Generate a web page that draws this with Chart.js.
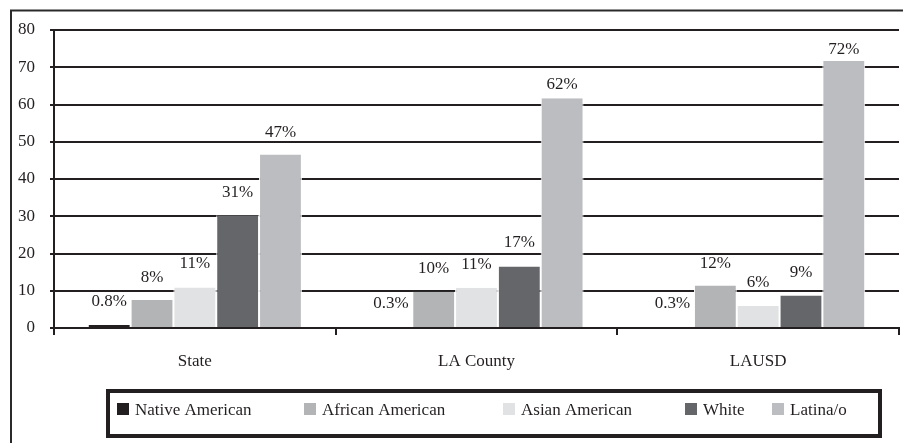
<!DOCTYPE html>
<html>
<head>
<meta charset="utf-8">
<script src="https://cdn.jsdelivr.net/npm/chart.js@4/dist/chart.umd.min.js"></script>
<style>
  html, body { margin: 0; padding: 0; background: #fff; }
  #wrap { position: relative; width: 903px; height: 443px; }
</style>
</head>
<body>
<div id="wrap"><canvas id="c" width="903" height="443"></canvas></div>
<script>
// ---- data ----
const categories = ["State", "LA County", "LAUSD"];
const seriesNames = ["Native American", "African American", "Asian American", "White", "Latina/o"];
const nativeAmerican  = [0.8, 0.3, 0.3];
const africanAmerican = [7.5, 9.7, 11.4];
const asianAmerican   = [10.9, 10.8, 5.9];
const white           = [30.3, 16.5, 8.7];
const latino          = [46.6, 61.7, 71.7];
const nativeLabels  = ["0.8%", "0.3%", "0.3%"];
const africanLabels = ["8%", "10%", "12%"];
const asianLabels   = ["11%", "11%", "6%"];
const whiteLabels   = ["31%", "17%", "9%"];
const latinoLabels  = ["47%", "62%", "72%"];
const yTicks = [0, 10, 20, 30, 40, 50, 60, 70, 80];

// ---- styles / layout ----
const FONT = '"Liberation Serif", "Times New Roman", serif';
const INK = '#231f20';
const colors = ['#231f20', '#b3b4b6', '#e1e2e3', '#656669', '#bcbdc0'];
const valueSets = [nativeAmerican, africanAmerican, asianAmerican, white, latino];
const labelSets = [nativeLabels, africanLabels, asianLabels, whiteLabels, latinoLabels];
const legendItemX = [117, 304, 503, 685, 772];
// distance of each value label above its bar (px), per series / category
const labelLift = [[23, 23, 23], [23, 23, 22], [24, 23, 23], [23, 24, 23], [22, 14, 11]];

const datasets = seriesNames.map((name, i) => ({
  label: name,
  data: valueSets[i],
  backgroundColor: colors[i],
  borderColor: '#ffffff',
  borderWidth: { left: 1, right: 1, top: 0, bottom: 0 },
  borderSkipped: 'start',
  barPercentage: 1.0,
  categoryPercentage: 0.76,
  valueLabels: labelSets[i]
}));

const framePlugin = {
  id: 'frame',
  beforeDraw(chart) {
    const ctx = chart.ctx;
    ctx.save();
    ctx.fillStyle = '#fff';
    ctx.fillRect(0, 0, chart.width, chart.height);
    ctx.strokeStyle = '#2a2a2a';
    ctx.lineWidth = 2;
    ctx.beginPath();
    ctx.moveTo(11, chart.height + 5);
    ctx.lineTo(11, 10.5);
    ctx.lineTo(chart.width + 5, 10.5);
    ctx.stroke();
    ctx.restore();
  }
};

const valueLabelPlugin = {
  id: 'valueLabels',
  afterDatasetsDraw(chart) {
    const ctx = chart.ctx;
    ctx.save();
    ctx.font = '17px ' + FONT;
    ctx.fillStyle = INK;
    ctx.textAlign = 'center';
    ctx.textBaseline = 'middle';
    chart.data.datasets.forEach((ds, i) => {
      const meta = chart.getDatasetMeta(i);
      meta.data.forEach((el, j) => {
        ctx.fillText(ds.valueLabels[j], el.x, el.y - labelLift[i][j]);
      });
    });
    ctx.restore();
  }
};

const legendPlugin = {
  id: 'boxLegend',
  afterDraw(chart) {
    const ctx = chart.ctx;
    ctx.save();
    ctx.strokeStyle = INK;
    ctx.lineWidth = 4;
    ctx.strokeRect(108, 391, 772, 45);
    ctx.font = '17px ' + FONT;
    ctx.textAlign = 'left';
    ctx.textBaseline = 'middle';
    chart.data.datasets.forEach((ds, i) => {
      const x = legendItemX[i];
      ctx.fillStyle = ds.backgroundColor;
      ctx.fillRect(x, 403, 12, 12);
      ctx.fillStyle = INK;
      ctx.fillText(ds.label, x + 18, 411);
    });
    ctx.restore();
  }
};

new Chart(document.getElementById('c'), {
  type: 'bar',
  data: { labels: categories, datasets },
  options: {
    responsive: false,
    animation: false,
    layout: { padding: { top: 30, right: 4, left: 0, bottom: 0 } },
    plugins: { legend: { display: false }, tooltip: { enabled: false } },
    scales: {
      x: {
        grid: { display: true, drawOnChartArea: false, drawTicks: true, tickLength: 7, color: INK, lineWidth: 2, offset: true },
        border: { display: true, color: INK, width: 2 },
        ticks: { font: { family: FONT, size: 17 }, color: INK, padding: 16 },
        afterFit(scale) { scale.height = 115; }
      },
      y: {
        min: 0, max: 80,
        afterBuildTicks(scale) { scale.ticks = yTicks.map(v => ({ value: v })); },
        grid: { color: INK, lineWidth: 2, drawTicks: true, tickLength: 4 },
        border: { display: true, color: INK, width: 2 },
        ticks: { font: { family: FONT, size: 17 }, color: INK, padding: 15 },
        afterFit(scale) { scale.width = 54; }
      }
    }
  },
  plugins: [framePlugin, valueLabelPlugin, legendPlugin]
});
</script>
</body>
</html>
